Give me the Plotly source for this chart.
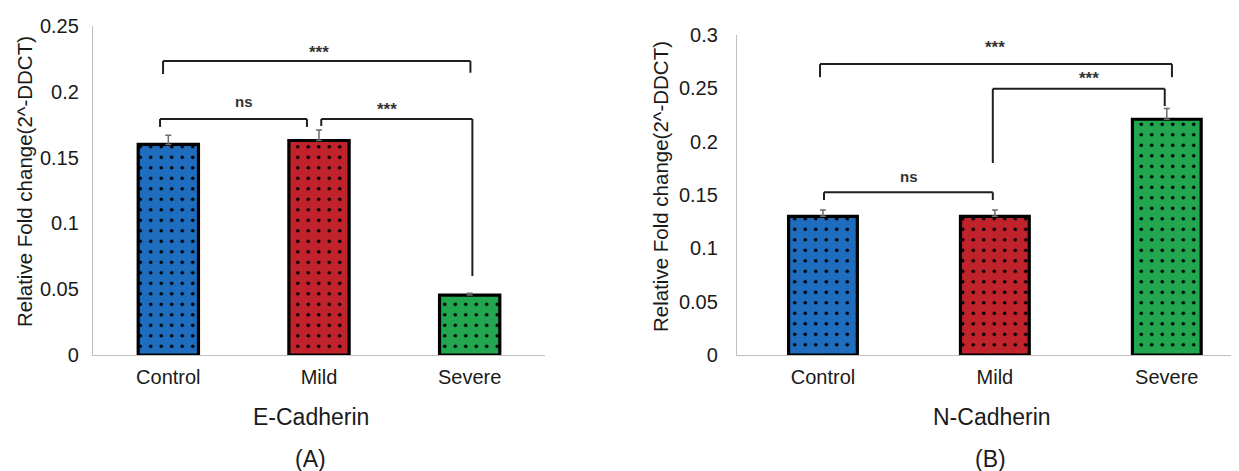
import plotly.graph_objects as go

# ---------------- data ----------------
categories = ["Control", "Mild", "Severe"]
ecad_values = [0.160, 0.163, 0.0455]
ecad_errors = [0.007, 0.008, 0.0015]
ncad_values = [0.130, 0.130, 0.221]
ncad_errors = [0.006, 0.006, 0.010]
bar_colors = ["#1F6DBE", "#C0232B", "#22A650"]
ecad_yticks = [0, 0.05, 0.1, 0.15, 0.2, 0.25]
ecad_yticktext = ["0", "0.05", "0.1", "0.15", "0.2", "0.25"]
ncad_yticks = [0, 0.05, 0.1, 0.15, 0.2, 0.25, 0.3]
ncad_yticktext = ["0", "0.05", "0.1", "0.15", "0.2", "0.25", "0.3"]

# significance brackets: (x_left, x_right, y_bar, y_left_end, y_right_end, label, label_x, label_y)
ecad_brackets = [
    (-0.035, 2.005, 0.2234, 0.2135, 0.2145, "***", 1.0, 0.2300),
    (-0.055, 0.92, 0.1793, 0.1733, 0.1733, "ns", 0.5, 0.1925),
    (1.015, 2.018, 0.1793, 0.1740, 0.0600, "***", 1.45, 0.1865),
]
ncad_brackets = [
    (-0.017, 2.03, 0.2727, 0.2605, 0.2605, "***", 1.0, 0.2880),
    (0.988, 1.988, 0.2496, 0.1800, 0.2334, "***", 1.55, 0.2590),
    (0.006, 0.988, 0.1525, 0.1453, 0.1453, "ns", 0.5, 0.1670),
]

# the page body has an 8px margin, so the figure is drawn at (8, 8)
OFF = 8
W, H = 1239 - OFF, 471 - OFF
FONT = "Liberation Sans, Arial, sans-serif"


def px_x(p):
    return (p - OFF) / W


def px_y(p):
    return 1 - (p - OFF) / H


fig = go.Figure()


def add_bars(values, errors, xa, ya):
    # one trace per bar so that each bar has a scalar colour (black dots on colour)
    for cat, val, err, col in zip(categories, values, errors, bar_colors):
        fig.add_trace(go.Bar(
            x=[cat], y=[val], xaxis=xa, yaxis=ya,
            width=0.4,
            marker=dict(
                color=col,
                line=dict(color="#000000", width=3.2),
                pattern=dict(shape=".", fgcolor="#000000", bgcolor=col,
                             fgopacity=1, size=10.5, solidity=0.09,
                             fillmode="overlay"),
            ),
            error_y=dict(type="data", array=[err], arrayminus=[0],
                         symmetric=False, color="#6b6b6b", thickness=1.5, width=3),
            showlegend=False,
        ))


add_bars(ecad_values, ecad_errors, "x", "y")
add_bars(ncad_values, ncad_errors, "x2", "y2")

axis_common = dict(showgrid=False, zeroline=False, showline=True, automargin=False,
                   linecolor="#BFBFBF", linewidth=1.3, ticks="")

fig.update_layout(
    template="none",
    barmode="overlay",
    width=W, height=H,
    margin=dict(l=0, r=0, t=0, b=0, pad=0),
    paper_bgcolor="white", plot_bgcolor="white",
    font=dict(family=FONT, color="#1a1a1a"),
    xaxis=dict(domain=[px_x(93), px_x(545)], anchor="y", type="category",
               categoryorder="array", categoryarray=categories,
               range=[-0.5, 2.5], tickfont=dict(size=20, family=FONT),
               ticklabelstandoff=4, **axis_common),
    yaxis=dict(domain=[px_y(355), px_y(26)], anchor="x", range=[0, 0.25],
               tickvals=ecad_yticks, ticktext=ecad_yticktext,
               tickfont=dict(size=20, family=FONT), ticklabelstandoff=9,
               **axis_common),
    xaxis2=dict(domain=[px_x(737), 1.0], anchor="y2", type="category",
                categoryorder="array", categoryarray=categories,
                range=[-0.5, 2.42], tickfont=dict(size=20, family=FONT),
                ticklabelstandoff=4, **axis_common),
    yaxis2=dict(domain=[px_y(355), px_y(35)], anchor="x2", range=[0, 0.3],
                tickvals=ncad_yticks, ticktext=ncad_yticktext,
                tickfont=dict(size=20, family=FONT), ticklabelstandoff=14,
                **axis_common),
)

shapes = []
annotations = []


def add_brackets(brackets, xr, yr):
    for (xl, xrt, yb, yle, yre, lab, lx, ly) in brackets:
        line = dict(color="#1f1f1f", width=2)
        shapes.append(dict(type="line", xref=xr, yref=yr, x0=xl, x1=xrt, y0=yb, y1=yb, line=line))
        shapes.append(dict(type="line", xref=xr, yref=yr, x0=xl, x1=xl, y0=yb, y1=yle, line=line))
        shapes.append(dict(type="line", xref=xr, yref=yr, x0=xrt, x1=xrt, y0=yb, y1=yre, line=line))
        annotations.append(dict(
            xref=xr, yref=yr, x=lx, y=ly, text="<b>%s</b>" % lab, showarrow=False,
            font=dict(size=15 if lab == "ns" else 17, family=FONT, color="#333333"),
            xanchor="center", yanchor="middle"))


add_brackets(ecad_brackets, "x", "y")
add_brackets(ncad_brackets, "x2", "y2")

# axis titles and panel labels
annotations += [
    dict(xref="paper", yref="paper", x=px_x(24), y=px_y(182), text="Relative Fold change(2^-DDCT)",
         textangle=-90, showarrow=False, font=dict(size=20.5, family=FONT, color="#1a1a1a"),
         xanchor="center", yanchor="middle"),
    dict(xref="paper", yref="paper", x=px_x(661), y=px_y(187), text="Relative Fold change(2^-DDCT)",
         textangle=-90, showarrow=False, font=dict(size=20.5, family=FONT, color="#1a1a1a"),
         xanchor="center", yanchor="middle"),
    dict(xref="paper", yref="paper", x=px_x(311), y=px_y(417), text="E-Cadherin",
         showarrow=False, font=dict(size=23, family=FONT, color="#1a1a1a"),
         xanchor="center", yanchor="middle"),
    dict(xref="paper", yref="paper", x=px_x(992), y=px_y(417), text="N-Cadherin",
         showarrow=False, font=dict(size=23, family=FONT, color="#1a1a1a"),
         xanchor="center", yanchor="middle"),
    dict(xref="paper", yref="paper", x=px_x(310), y=px_y(459), text="(A)",
         showarrow=False, font=dict(size=23, family=FONT, color="#1a1a1a"),
         xanchor="center", yanchor="middle"),
    dict(xref="paper", yref="paper", x=px_x(990), y=px_y(459), text="(B)",
         showarrow=False, font=dict(size=23, family=FONT, color="#1a1a1a"),
         xanchor="center", yanchor="middle"),
]

fig.update_layout(shapes=shapes, annotations=annotations)
fig.write_html("out.html")
